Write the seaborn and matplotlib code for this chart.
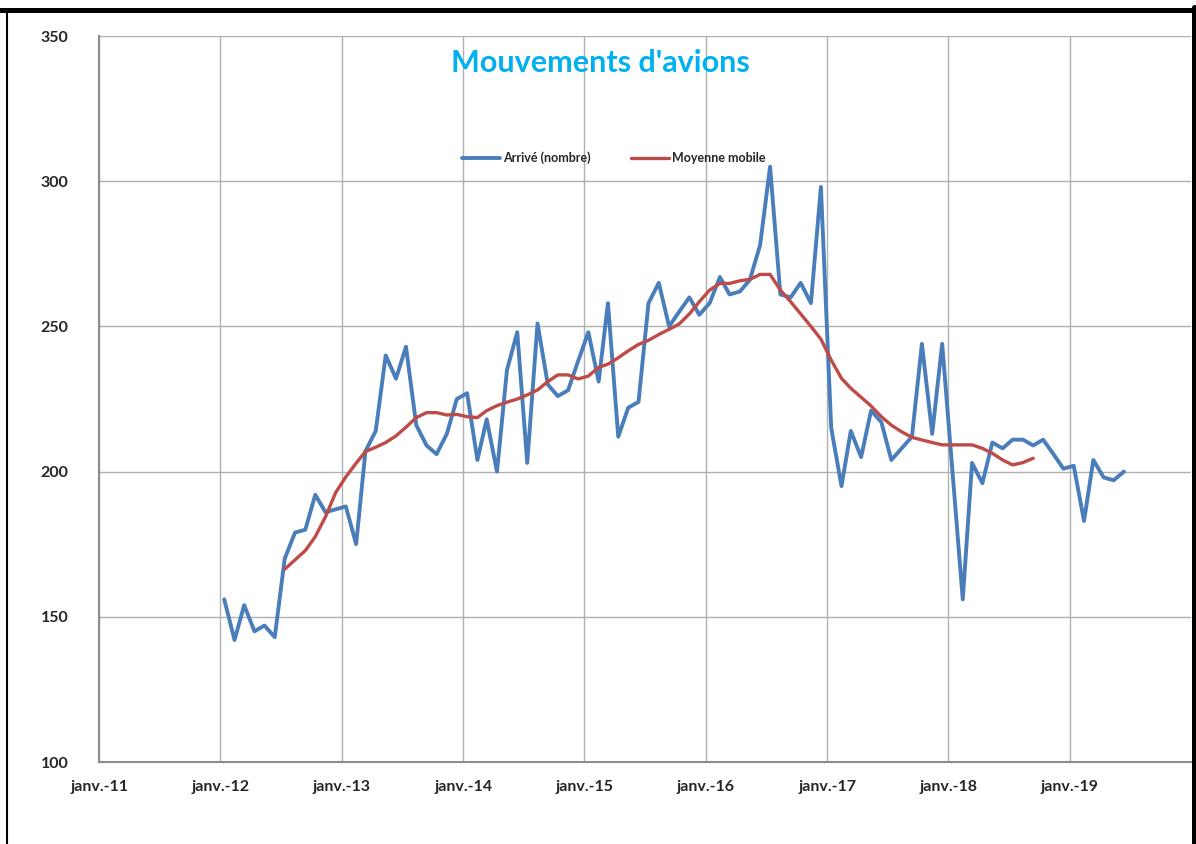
import numpy as np
import pandas as pd
import matplotlib
matplotlib.use("Agg")
import matplotlib.pyplot as plt
from matplotlib.lines import Line2D
import seaborn as sns

# ---- data ----
arrivals = [
    156, 142, 154, 145, 147, 143, 170, 179, 180, 192, 186, 187,   # 2012
    188, 175, 207, 214, 240, 232, 243, 216, 209, 206, 213, 225,   # 2013
    227, 204, 218, 200, 235, 248, 203, 251, 230, 226, 228, 238,   # 2014
    248, 231, 258, 212, 222, 224, 258, 265, 250, 255, 260, 254,   # 2015
    258, 267, 261, 262, 266, 278, 305, 261, 260, 265, 258, 298,   # 2016
    215, 195, 214, 205, 221, 217, 204, 208, 212, 244, 213, 244,   # 2017
    200, 156, 203, 196, 210, 208, 211, 211, 209, 211, 206, 201,   # 2018
    202, 183, 204, 198, 197, 200,                                 # 2019
]
arrivals_start = "2012-01"

moving_avg = [
    166.4, 169.6, 172.8, 177.6, 184.5, 192.7,                                  # 2012 (Jul-Dec)
    198.2, 202.9, 206.9, 208.4, 210.0, 212.3, 215.3, 218.6, 220.3, 220.3, 219.5, 219.7,  # 2013
    218.9, 218.6, 221.0, 222.7, 223.9, 225.0, 226.4, 228.1, 231.0, 233.3, 233.3, 231.9,  # 2014
    232.9, 235.9, 237.0, 239.2, 241.6, 243.8, 245.2, 247.2, 249.0, 250.8, 254.3, 258.5,  # 2015
    262.5, 264.8, 264.8, 265.7, 266.2, 267.9, 267.9, 262.5, 258.5, 254.3, 250.0, 245.6,  # 2016
    238.4, 232.1, 228.7, 225.6, 222.6, 218.9, 216.0, 213.7, 211.8, 210.9, 210.0, 209.2,  # 2017
    209.2, 209.2, 209.2, 208.0, 206.3, 204.0, 202.3, 203.1, 204.6,                      # 2018
]
moving_avg_start = "2012-07"

series_names = ["Arrivé (nombre)", "Moyenne mobile"]
tick_years = list(range(2011, 2020))
tick_labels = ["janv.-11", "janv.-12", "janv.-13", "janv.-14", "janv.-15",
               "janv.-16", "janv.-17", "janv.-18", "janv.-19"]
y_ticks = [100, 150, 200, 250, 300, 350]
title = "Mouvements d'avions"

# ---- frames ----
offset = pd.Timedelta(days=12)
d1 = pd.DataFrame({
    "date": pd.date_range(arrivals_start, periods=len(arrivals), freq="MS") + offset,
    "value": arrivals, "serie": series_names[0]})
d2 = pd.DataFrame({
    "date": pd.date_range(moving_avg_start, periods=len(moving_avg), freq="MS") + offset,
    "value": moving_avg, "serie": series_names[1]})

sns.set_style("white")
plt.rcParams["font.family"] = ["Lato", "DejaVu Sans"]

W, H = 1196, 844
fig = plt.figure(figsize=(W / 100, H / 100), dpi=100)
ax = fig.add_axes([99 / W, (H - 762) / H, (1191 - 99) / W, (762 - 36) / H])

blue = "#4A7EBB"
red = "#BE4B48"
sns.lineplot(data=d1, x="date", y="value", ax=ax, color=blue, linewidth=2.8,
             label=series_names[0])
sns.lineplot(data=d2, x="date", y="value", ax=ax, color=red, linewidth=2.4,
             label=series_names[1])

ax.set_xlim(pd.Timestamp("2011-01-01"), pd.Timestamp("2020-01-01"))
ax.set_ylim(100, 350)
ax.set_yticks(y_ticks)
ax.set_yticklabels([str(v) for v in y_ticks], fontweight="bold", fontsize=11.5)
xt = [pd.Timestamp(f"{y}-01-01") for y in tick_years]
ax.set_xticks(xt)
ax.set_xticklabels(tick_labels, fontweight="bold", fontsize=11.5)
ax.set_xlabel("")
ax.set_ylabel("")

ax.grid(True, color="#B0B0B0", linewidth=1.0)
ax.set_axisbelow(True)
for s in ["top", "right"]:
    ax.spines[s].set_visible(False)
for s in ["left", "bottom"]:
    ax.spines[s].set_color("#8C8C8C")
    ax.spines[s].set_linewidth(1.5)
ax.tick_params(axis="x", length=3, color="#8C8C8C", pad=10)
ax.tick_params(axis="y", length=0, pad=22)

fig.text(600 / W, 1 - 63 / H, title, color="#00B0F0", fontsize=22,
         fontweight="bold", ha="center", va="center")

handles, labels = ax.get_legend_handles_labels()
ax.get_legend().remove()
leg = fig.legend(handles, labels, loc="center", bbox_to_anchor=(614 / W, 1 - 158 / H),
                 ncol=2, frameon=False, prop={"weight": "bold", "size": 9},
                 handlelength=3.0, columnspacing=3.2, handletextpad=0.3)

# outer frame
fig.add_artist(Line2D([0, 1194 / W], [1 - 9.5 / H, 1 - 9.5 / H], color="black",
                      linewidth=3.6, transform=fig.transFigure))
fig.add_artist(Line2D([7 / W, 7 / W], [0, 1 - 9.5 / H], color="black",
                      linewidth=1.5, transform=fig.transFigure))
fig.add_artist(Line2D([1193.5 / W, 1193.5 / W], [0, 1 - 7 / H], color="black",
                      linewidth=3.6, transform=fig.transFigure))

fig.savefig("out.png", dpi=100)
